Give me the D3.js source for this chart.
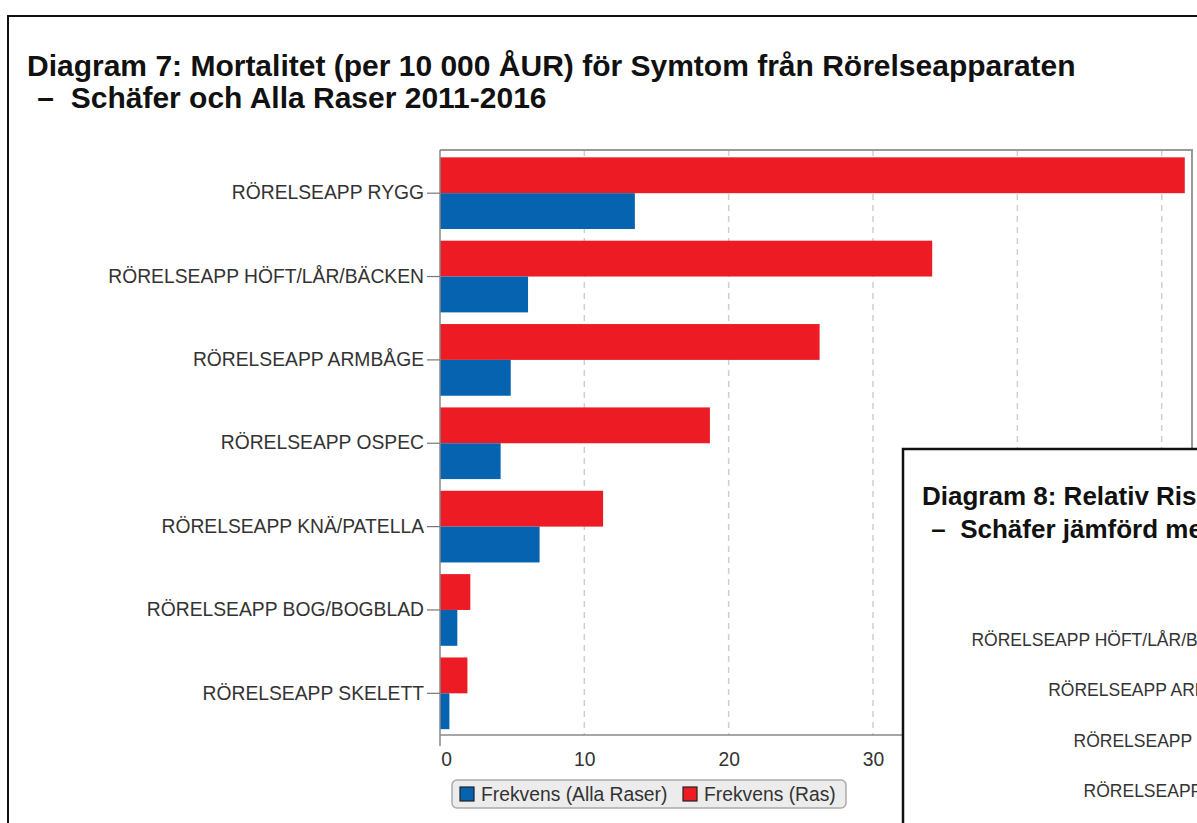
<!DOCTYPE html>
<html><head><meta charset="utf-8">
<script src="https://cdn.jsdelivr.net/npm/d3@7"></script>
<style>
body{margin:0;background:#fff;}
svg{display:block;font-family:"Liberation Sans",Arial,sans-serif;}
</style>
</head><body><svg id="c" width="1197" height="823"></svg>
<script>
// ---- data ----
const categories = ["RÖRELSEAPP RYGG","RÖRELSEAPP HÖFT/LÅR/BÄCKEN","RÖRELSEAPP ARMBÅGE","RÖRELSEAPP OSPEC","RÖRELSEAPP KNÄ/PATELLA","RÖRELSEAPP BOG/BOGBLAD","RÖRELSEAPP SKELETT"];
const rasValues = [51.6, 34.1, 26.3, 18.7, 11.3, 2.1, 1.9];
const allaRaserValues = [13.5, 6.1, 4.9, 4.2, 6.9, 1.2, 0.65];
const seriesNames = ["Frekvens (Alla Raser)", "Frekvens (Ras)"];
const xTickValues = [0, 10, 20, 30, 40, 50];
const titleLines = ["Diagram 7: Mortalitet (per 10 000 ÅUR) för Symtom från Rörelseapparaten", "–  Schäfer och Alla Raser 2011-2016"];
const overlayTitleLines = ["Diagram 8: Relativ Risk för Symtom från Rörelseapparaten", "–  Schäfer jämförd med Alla Raser 2011-2016"];
const overlayCategories = ["RÖRELSEAPP HÖFT/LÅR/BÄCKEN","RÖRELSEAPP ARMBÅGE","RÖRELSEAPP OSPEC","RÖRELSEAPP RYGG"];

const BLUE = "#0563AF", RED = "#ED1C24", TXT = "#333";
const svg = d3.select("#c");

// document frame
svg.append("path").attr("d","M8,830 V16 H1210").attr("fill","none").attr("stroke","#111").attr("stroke-width",2);

// title
svg.append("text").attr("x",27).attr("y",76).attr("font-size",30).attr("font-weight","bold").attr("fill","#111").text(titleLines[0]);
svg.append("text").attr("x",29).attr("y",108).attr("font-size",30).attr("font-weight","bold").attr("fill","#111").attr("xml:space","preserve").text(" " + titleLines[1]);

// scales
const x = d3.scaleLinear().domain([0, 52.1]).range([440, 1192]);
const y = d3.scaleBand().domain(categories).range([151.5, 735]).paddingInner(0.14).paddingOuter(0.07);
const sub = d3.scaleBand().domain(["ras","alla"]).range([0, y.bandwidth()]);

// grid
svg.append("g").selectAll("line").data(xTickValues.filter(d => d > 0)).join("line")
  .attr("x1", d => x(d)).attr("x2", d => x(d)).attr("y1", 150).attr("y2", 735)
  .attr("stroke", "#cfcfcf").attr("stroke-width", 1.5).attr("stroke-dasharray", "6,5");

// bars
const rows = categories.map((c, i) => ({c, ras: rasValues[i], alla: allaRaserValues[i]}));
const g = svg.append("g");
g.selectAll("rect.ras").data(rows).join("rect").attr("class","ras")
  .attr("x", x(0)).attr("y", d => y(d.c) + sub("ras")).attr("width", d => x(d.ras) - x(0)).attr("height", sub.bandwidth()).attr("fill", RED);
g.selectAll("rect.alla").data(rows).join("rect").attr("class","alla")
  .attr("x", x(0)).attr("y", d => y(d.c) + sub("alla")).attr("width", d => x(d.alla) - x(0)).attr("height", sub.bandwidth()).attr("fill", BLUE);

// frame top/right
svg.append("path").attr("d", `M${x(0)},150 H1192 V735`).attr("fill","none").attr("stroke","#999").attr("stroke-width",2);

// y axis
const ya = svg.append("g").attr("transform", `translate(${x(0)},0)`)
  .call(d3.axisLeft(y).tickSize(13).tickPadding(3).tickSizeOuter(0));
ya.select(".domain").attr("stroke","#888").attr("stroke-width",1.5).attr("d","M0,150V746");
ya.selectAll(".tick").attr("transform", d => `translate(0,${y(d) + sub.bandwidth()})`);
ya.selectAll(".tick line").attr("stroke","#777").attr("stroke-width",1.2);
ya.selectAll(".tick text").attr("font-size", 19.3).attr("fill", TXT).attr("font-family", "Liberation Sans, Arial, sans-serif");

// x axis
const xa = svg.append("g").attr("transform", "translate(0,735)")
  .call(d3.axisBottom(x).tickValues(xTickValues.filter(d => d < 40)).tickSize(0).tickPadding(17).tickSizeOuter(0));
xa.select(".domain").attr("stroke","#888").attr("stroke-width",1.5).attr("d",`M${x(0)},0H1192`);
xa.selectAll(".tick text").attr("font-size", 19.3).attr("fill", TXT).attr("font-family", "Liberation Sans, Arial, sans-serif")
  .attr("dx", d => d === 0 ? 6 : 0);

// legend
const lg = svg.append("g");
lg.append("rect").attr("x",452).attr("y",780).attr("width",394).attr("height",28).attr("rx",5)
  .attr("fill","#ececec").attr("stroke","#aaa").attr("stroke-width",1.5);
const legendItems = [{name: seriesNames[0], color: BLUE, x: 460}, {name: seriesNames[1], color: RED, x: 683}];
lg.selectAll("rect.sw").data(legendItems).join("rect").attr("class","sw")
  .attr("x", d => d.x).attr("y", 787).attr("width", 14).attr("height", 14)
  .attr("fill", d => d.color).attr("stroke", "#222").attr("stroke-width", 1.2);
lg.selectAll("text").data(legendItems).join("text")
  .attr("x", d => d.x + 21).attr("y", 801).attr("font-size", 19.3).attr("fill", TXT).text(d => d.name);

// overlay (Diagram 8 page)
const ov = svg.append("g");
ov.append("rect").attr("x",903).attr("y",449).attr("width",400).attr("height",400)
  .attr("fill","#fff").attr("stroke","#111").attr("stroke-width",2.5);
ov.append("text").attr("x",922).attr("y",505).attr("font-size",26).attr("font-weight","bold").attr("fill","#111").text(overlayTitleLines[0]);
ov.append("text").attr("x",924).attr("y",538).attr("font-size",26).attr("font-weight","bold").attr("fill","#111").attr("xml:space","preserve").text(" " + overlayTitleLines[1]);
const oy = d3.scalePoint().domain(overlayCategories).range([640, 791]);
ov.selectAll("text.cat").data(overlayCategories).join("text").attr("class","cat")
  .attr("x", 1258).attr("y", d => oy(d)).attr("dy","0.35em").attr("text-anchor","end")
  .attr("font-size", 17.5).attr("fill", TXT).text(d => d);
</script>
</body></html>
